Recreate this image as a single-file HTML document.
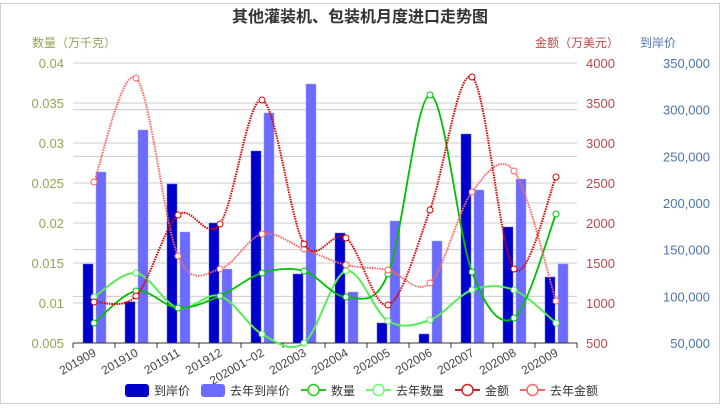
<!DOCTYPE html><html><head><meta charset="utf-8"><style>
body{margin:0;background:#fff;}
svg text{font-family:"Liberation Sans","Noto Sans CJK SC",sans-serif;}
</style></head><body>
<svg id="c" width="720" height="406" xmlns="http://www.w3.org/2000/svg">
<rect x="0.5" y="3.5" width="719" height="400" fill="#fff" stroke="#d0d0d0"/>
<text x="360" y="22" text-anchor="middle" font-size="16" font-weight="bold" fill="#333">其他灌装机、包装机月度进口走势图</text>
<text x="32" y="47" font-size="12" fill="#93a55a">数量（万千克）</text>
<text x="535" y="47" font-size="12" fill="#b84a47">金额（万美元）</text>
<text x="640" y="47" font-size="12" fill="#4d74ad">到岸价</text>
<g id="g"></g>
</svg>
<script>
var g=document.getElementById('g'),h='';
var L=73,R=577,T=63,B=343;
// grid
for(var i=0;i<8;i++){var y=T+i*40;h+='<line x1="'+L+'" x2="'+R+'" y1="'+y+'" y2="'+y+'" stroke="#ccc"/>';}
for(var i=1;i<6;i++){var y=T+i*280/6;h+='<line x1="'+L+'" x2="'+R+'" y1="'+y+'" y2="'+y+'" stroke="#ccc"/>';}
var ql=['0.04','0.035','0.03','0.025','0.02','0.015','0.01','0.005'];
var al=['4000','3500','3000','2500','2000','1500','1000','500'];
for(var i=0;i<8;i++){var y=T+i*40+5;
h+='<text x="64" y="'+y+'" text-anchor="end" font-size="13" fill="#93a55a">'+ql[i]+'</text>';
h+='<text x="586" y="'+y+'" font-size="13" fill="#b84a47">'+al[i]+'</text>';}
var pl=['350,000','300,000','250,000','200,000','150,000','100,000','50,000'];
for(var i=0;i<7;i++){var y=T+i*280/6+5;h+='<text x="710" y="'+y+'" text-anchor="end" font-size="13" fill="#4d74ad">'+pl[i]+'</text>';}
var cats=['201909','201910','201911','201912','202001~02','202003','202004','202005','202006','202007','202008','202009'];
var d=[264,301.7,184,223,151,274,233,323,334,134,227,277];
var lb=[172,130,232,269,113,84,292,221,241,190,179,264];
var cx=[];for(var i=0;i<12;i++)cx.push(L+42*(i+0.5));
for(var i=0;i<12;i++){
h+='<rect x="'+(cx[i]-11)+'" y="'+d[i]+'" width="10" height="'+(B-d[i])+'" fill="#0000cc" stroke="#6666ee" stroke-width="0.5"/>';
h+='<rect x="'+(cx[i]+2)+'" y="'+lb[i]+'" width="10" height="'+(B-lb[i])+'" fill="#6b6bff" stroke="#a0a0ff" stroke-width="0.5"/>';}
h+='<line x1="'+L+'" x2="'+R+'" y1="'+B+'" y2="'+B+'" stroke="#333"/>';
for(var i=0;i<=12;i++){var x=L+42*i;h+='<line x1="'+x+'" x2="'+x+'" y1="'+B+'" y2="'+(B+5)+'" stroke="#333"/>';}
for(var i=0;i<12;i++){h+='<text transform="translate('+(cx[i]+3)+','+(B+12)+') rotate(-30)" text-anchor="end" font-size="12" fill="#444">'+cats[i]+'</text>';}
function path(ys){var p='M'+cx[0]+','+ys[0];for(var i=0;i<11;i++){var p0=i>0?i-1:i,p3=i<10?i+2:i+1;
var c1x=cx[i]+(cx[i+1]-cx[p0])/6,c1y=ys[i]+(ys[i+1]-ys[p0])/6,c2x=cx[i+1]-(cx[p3]-cx[i])/6,c2y=ys[i+1]-(ys[p3]-ys[i])/6;
p+=' C'+c1x+','+c1y+' '+c2x+','+c2y+' '+cx[i+1]+','+ys[i+1];}return p;}
function line(ys,col,dash,w,sq){h+='<path d="'+path(ys)+'" fill="none" stroke="'+col+'" stroke-width="'+w+'"'+(dash?' stroke-dasharray="1.5,1"':'')+'/>';
for(var i=0;i<12;i++)h+='<circle cx="'+cx[i]+'" cy="'+ys[i]+'" r="3" fill="#fff" stroke="'+col+'"/>';}
line([297,273,308,296,334,343,271,321,320,290,290,323],'#55ee55',false,2);
line([323,291,308,296,273,271,297,274,95,272,318,214],'#00c000',false,1.8);
line([182,78,256,269,234,249,265,270,283,192,171,301],'#ff6666',true,2);
line([302,296,215,224,100,244,238,305,210,77,269,177],'#dd0000',true,2);
// legend
var ly=390;
h+='<rect x="125" y="'+(ly-6)+'" width="24" height="13" rx="3" fill="#0000cc"/><text x="154" y="'+(ly+5)+'" font-size="12" fill="#333">到岸价</text>';
h+='<rect x="201" y="'+(ly-6)+'" width="24" height="13" rx="3" fill="#6b6bff"/><text x="230" y="'+(ly+5)+'" font-size="12" fill="#333">去年到岸价</text>';
function ll(x,col,t){h+='<line x1="'+x+'" x2="'+(x+25)+'" y1="'+ly+'" y2="'+ly+'" stroke="'+col+'" stroke-width="2"/><circle cx="'+(x+12.5)+'" cy="'+ly+'" r="5.5" fill="#fff" stroke="'+col+'" stroke-width="1.5"/><text x="'+(x+30)+'" y="'+(ly+5)+'" font-size="12" fill="#333">'+t+'</text>';}
ll(301,'#22cc22','数量');ll(366,'#66ff66','去年数量');ll(455,'#cc2222','金额');ll(520,'#ff6666','去年金额');
g.innerHTML=h;
</script>
</body></html>
